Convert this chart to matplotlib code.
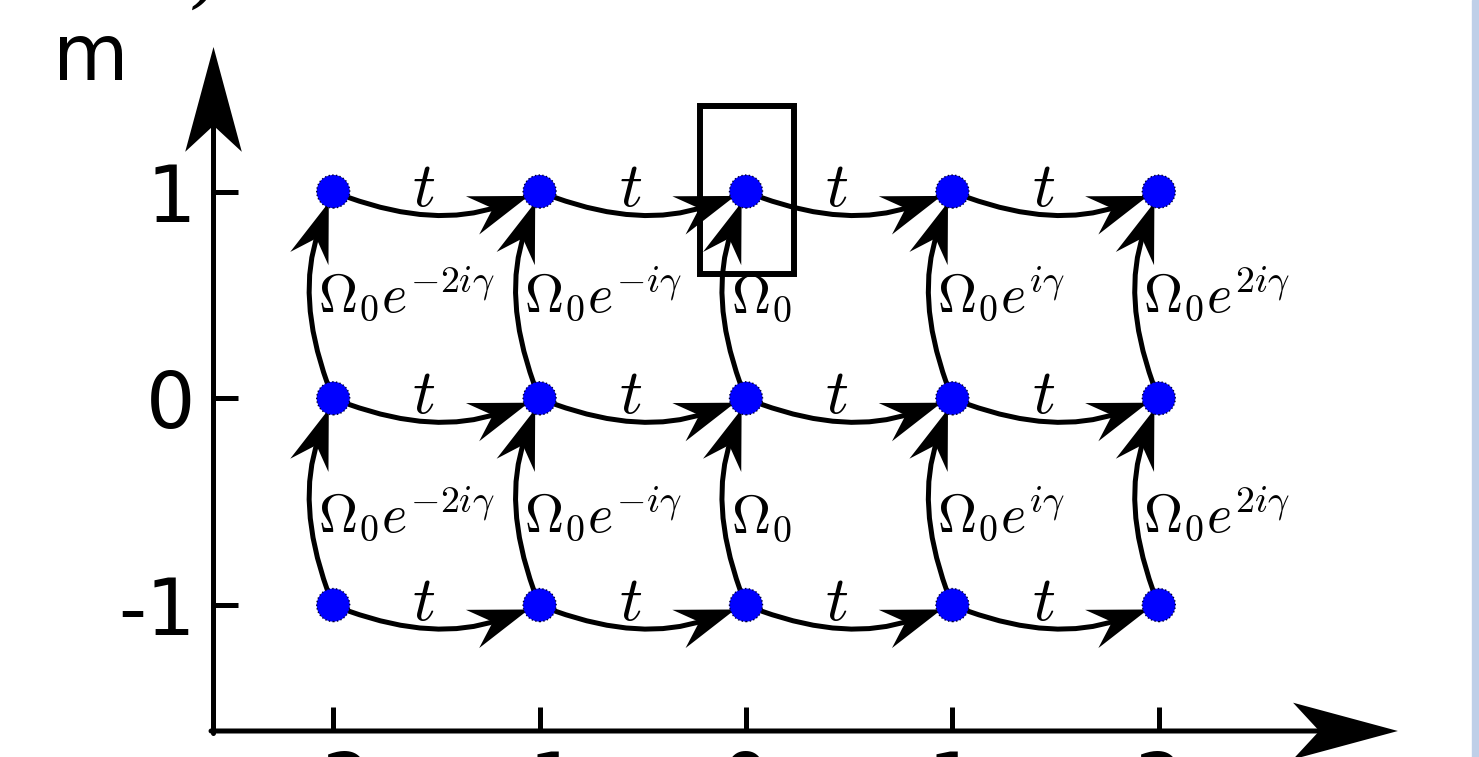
import numpy as np
import matplotlib.pyplot as plt
from matplotlib.patches import FancyArrowPatch, Rectangle, ArrowStyle
from matplotlib.path import Path

plt.rcParams['mathtext.fontset'] = 'cm'

# lattice: sites along x and synthetic dimension m
sites_x = [-2, -1, 0, 1, 2]
sites_m = [-1, 0, 1]
x_tick_labels = ['-2', '-1', '0', '1', '2']
m_tick_labels = ['-1', '0', '1']
hop_label = r'$t$'
coupling_labels = [r'$\Omega_0e^{-2i\gamma}$', r'$\Omega_0e^{-i\gamma}$', r'$\Omega_0$',
                   r'$\Omega_0e^{i\gamma}$', r'$\Omega_0e^{2i\gamma}$']
box_site = (0, 1)


class Stealth(ArrowStyle._Base):
    """arrow head with a notched back"""
    def __init__(self, head_length=1.0, head_width=0.35, notch=0.3):
        self.head_length = head_length
        self.head_width = head_width
        self.notch = notch
        super().__init__()

    def transmute(self, path, mutation_size, linewidth):
        hl = self.head_length * mutation_size
        hw = self.head_width * mutation_size
        v = path.vertices.copy()
        tip = v[-1].copy()
        d = tip - v[-2]
        d = d / np.hypot(*d)
        n = np.array([-d[1], d[0]])
        back = tip - d * hl
        notch = tip - d * hl * (1 - self.notch)
        head = Path([tip, back + n * hw, notch, back - n * hw, tip], closed=True)
        v[-1] = notch + d * 2
        return [Path(v, path.codes), head], [False, True]


fig = plt.figure(figsize=(14.79, 7.57), dpi=100)
ax = fig.add_axes([0.14436, 0.03435, 0.80088, 0.90357])
ax.set_xlim(-2.58, 3.159)
ax.set_ylim(-1.609, 1.699)
for s in ax.spines.values():
    s.set_visible(False)
ax.set_xticks(sites_x, x_tick_labels, fontsize=56)
ax.set_yticks(sites_m, m_tick_labels, fontsize=56)
ax.tick_params(direction='in', length=17, width=3.6, pad=13)

# axes drawn as arrows
ax_style = Stealth(1.0, 0.27, 0.25)
for start, end in [((-0.0021, 0), (0.9918, 0)), ((0, -0.0037), (0, 0.986))]:
    ax.add_patch(FancyArrowPatch(start, end, transform=ax.transAxes, arrowstyle=ax_style,
                                 mutation_scale=63, lw=3.6, color='k', joinstyle='miter',
                                 shrinkA=0, shrinkB=0, clip_on=False))

link_style = Stealth(1.0, 0.34, 0.36)

# hopping along x
for m in sites_m:
    for x0, x1 in zip(sites_x[:-1], sites_x[1:]):
        ax.add_patch(FancyArrowPatch((x0, m), (x1, m), connectionstyle='arc3,rad=0.21',
                                     arrowstyle=link_style, mutation_scale=30, lw=3.6,
                                     color='k', joinstyle='miter',
                                     shrinkA=12, shrinkB=14, zorder=3))
        ax.text((x0 + x1) / 2 - 0.06, m + 0.015, hop_label, fontsize=46,
                ha='center', va='center')

# coupling along m
coupling_y = [-0.647, 0.417]
for x, lab in zip(sites_x, coupling_labels):
    for (m0, m1), ty in zip(zip(sites_m[:-1], sites_m[1:]), coupling_y):
        ax.add_patch(FancyArrowPatch((x, m0), (x, m1), connectionstyle='arc3,rad=-0.21',
                                     arrowstyle=link_style, mutation_scale=30, lw=3.6,
                                     color='k', joinstyle='miter',
                                     shrinkA=12, shrinkB=14, zorder=3))
        ax.text(x - 0.075, ty, lab, fontsize=39, ha='left', va='baseline')

gx, gy = np.meshgrid(sites_x, sites_m)
ax.scatter(gx.ravel(), gy.ravel(), s=566, c='#0000ff', edgecolors='#000033',
           linewidths=1.0, linestyles=':', zorder=4)

ax.add_patch(Rectangle((box_site[0] - 0.223, box_site[1] - 0.399), 0.455, 0.813,
                       fill=False, ec='k', lw=4.3, zorder=5))

fig.text(91 / 1479, 1 - 80 / 757, 'm', fontsize=56, ha='center', va='baseline')
fig.text(0.1515, 1 + 1 / 757, 'a)', fontsize=56, family='DejaVu Serif', style='italic',
         ha='right', va='baseline')
fig.patches.append(Rectangle((1472 / 1479, 0), 1, 1, transform=fig.transFigure,
                             color='#bfcfe8'))

fig.savefig('out.png', dpi=100)
